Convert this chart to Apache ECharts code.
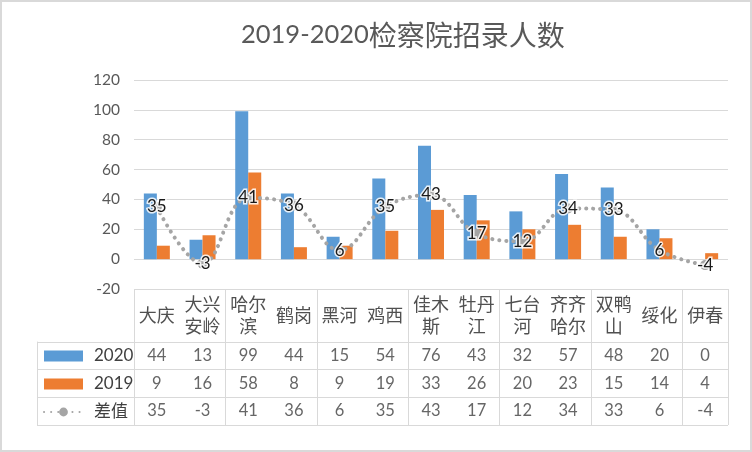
<!DOCTYPE html>
<html><head><meta charset="utf-8">
<script src="https://cdn.jsdelivr.net/npm/echarts@6/dist/echarts.min.js"></script>
<style>html,body{margin:0;padding:0;background:#fff}
#c{position:absolute;left:0;top:0;width:752px;height:452px}
#f{position:absolute;left:0;top:0;width:752px;height:452px;box-sizing:border-box;border:2px solid #D9D9D9;pointer-events:none}
</style></head><body>
<div id="c"></div><div id="f"></div>
<script>
const categories = ['大庆','大兴安岭','哈尔滨','鹤岗','黑河','鸡西','佳木斯','牡丹江','七台河','齐齐哈尔','双鸭山','绥化','伊春'];
const values2020 = [44,13,99,44,15,54,76,43,32,57,48,20,0];
const values2019 = [9,16,58,8,9,19,33,26,20,23,15,14,4];
const diffValues = [35,-3,41,36,6,35,43,17,12,34,33,6,-4];
const rowNames = ['2020','2019','差值'];
const yMin = -20, yMax = 120, yInterval = 20;

const FONT = "Lato, 'Noto Sans CJK SC', sans-serif";
const GRID_COLOR = '#D9D9D9';
const rows = [values2020, values2019, diffValues];
const tableData = [];
rows.forEach((arr, r) => arr.forEach((v, i) => tableData.push([i, r, v])));

const chart = echarts.init(document.getElementById('c'), null, {renderer: 'canvas'});
chart.setOption({
  animation: false,
  backgroundColor: '#fff',
  title: {
    text: '{a|2019-2020}{b|检察院招录人数}',
    left: 236, top: 16,
    textStyle: {
      fontWeight: 'normal',
      rich: {
        a: {fontFamily: 'Lato', fontSize: 25.5, fontWeight: 'normal', color: '#595959'},
        b: {fontFamily: "'Noto Sans CJK SC'", fontSize: 28, fontWeight: 'normal', color: '#595959'}
      }
    }
  },
  legend: {
    orient: 'vertical', left: 43, top: 346, padding: 0,
    itemWidth: 39, itemHeight: 11, itemGap: 8,
    selectedMode: false,
    data: [{name: '2020', icon: 'rect'}, {name: '2019', icon: 'rect'}, {name: '差值'}],
    textStyle: {fontFamily: FONT, fontSize: 17, color: '#404040', lineHeight: 20, padding: [0, 0, 0, 6]}
  },
  grid: [
    {left: 134, right: 24, top: 80, bottom: 163},
    {left: 134, right: 24, top: 289, bottom: 27},
    {left: 134, right: 24, top: 342, bottom: 27},
    {left: 37, right: 618, top: 342, bottom: 27}
  ],
  xAxis: [
    {type: 'category', gridIndex: 0, data: categories,
     axisLine: {show: false, onZero: false}, axisTick: {show: false},
     axisLabel: {margin: 27, verticalAlign: 'middle', lineHeight: 22, fontSize: 18,
       fontFamily: FONT, color: '#505050', interval: 0,
       formatter: v => v.length > 2 ? v.slice(0, 2) + '\n' + v.slice(2) : v}},
    {type: 'category', gridIndex: 1, data: categories,
     axisLine: {show: false}, axisTick: {show: false}, axisLabel: {show: false},
     splitLine: {show: true, lineStyle: {color: GRID_COLOR, width: 1}}},
    {type: 'category', gridIndex: 2, data: categories, show: false},
    {type: 'value', gridIndex: 3, show: false}
  ],
  yAxis: [
    {type: 'value', gridIndex: 0, min: yMin, max: yMax, interval: yInterval,
     axisLine: {show: false}, axisTick: {show: false},
     axisLabel: {fontSize: 15.5, fontFamily: FONT, color: '#595959', margin: 14},
     splitLine: {lineStyle: {color: GRID_COLOR, width: 1}}},
    {type: 'value', gridIndex: 1, show: false},
    {type: 'category', gridIndex: 2, data: rowNames, inverse: true,
     axisLine: {show: false}, axisTick: {show: false}, axisLabel: {show: false},
     splitLine: {show: true, lineStyle: {color: GRID_COLOR, width: 1}}},
    {type: 'category', gridIndex: 3, data: rowNames, inverse: true,
     axisLine: {show: true, lineStyle: {color: GRID_COLOR, width: 1}}, axisTick: {show: false}, axisLabel: {show: false},
     splitLine: {show: true, lineStyle: {color: GRID_COLOR, width: 1}}}
  ],
  series: [
    {name: '2020', type: 'bar', xAxisIndex: 0, yAxisIndex: 0, data: values2020,
     barWidth: 13, barGap: '0%', itemStyle: {color: '#5B9BD5'}},
    {name: '2019', type: 'bar', xAxisIndex: 0, yAxisIndex: 0, data: values2019,
     barWidth: 13, barGap: '0%', itemStyle: {color: '#ED7D31'}},
    {name: '差值', type: 'line', xAxisIndex: 0, yAxisIndex: 0, data: diffValues,
     smooth: 0.4, symbol: 'circle', symbolSize: 10, z: 5,
     lineStyle: {color: '#A5A5A5', width: 4, type: [0.1, 7], cap: 'round'},
     itemStyle: {color: '#A5A5A5'},
     label: {show: true, position: 'inside', fontFamily: FONT, fontSize: 17, color: '#1a1a1a',
       textBorderColor: 'rgba(255,255,255,0.85)', textBorderWidth: 3}},
    {name: 'table', type: 'scatter', xAxisIndex: 2, yAxisIndex: 2, data: tableData,
     symbolSize: 1, itemStyle: {color: 'rgba(0,0,0,0)'}, silent: true,
     label: {show: true, position: 'inside', formatter: p => String(p.value[2]),
       fontFamily: FONT, fontSize: 16.5, color: '#404040'}}
  ]
});
</script></body></html>
